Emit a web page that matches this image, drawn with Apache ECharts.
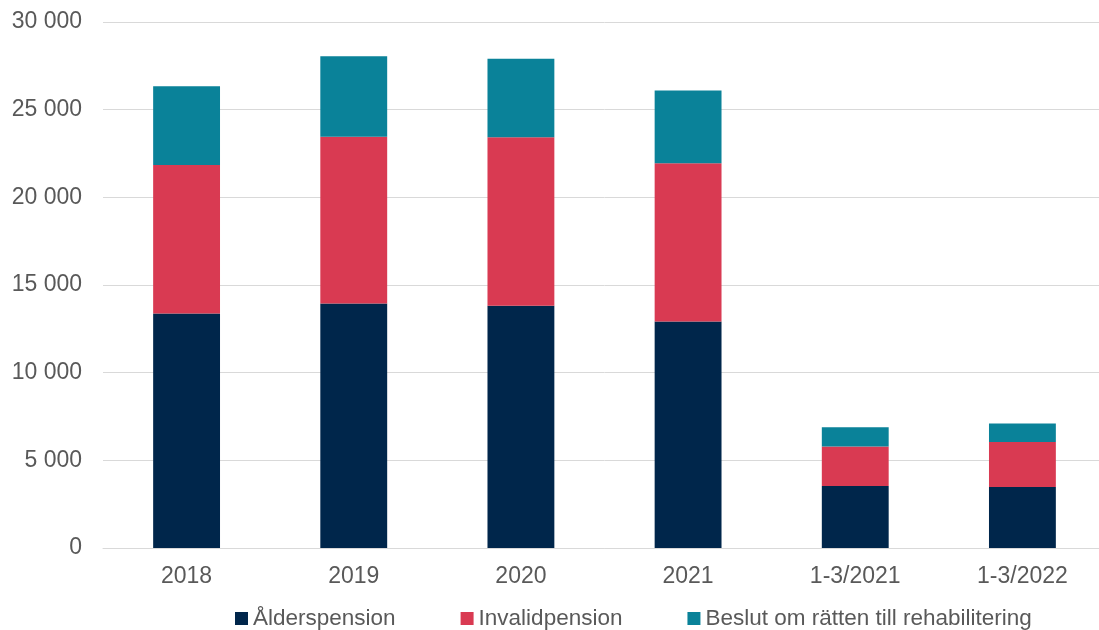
<!DOCTYPE html>
<html>
<head>
<meta charset="utf-8">
<script src="https://cdn.jsdelivr.net/npm/echarts@6/dist/echarts.min.js"></script>
<style>
  html, body { margin: 0; padding: 0; background: #ffffff; overflow: hidden; }
  #chart { width: 1106px; height: 630px; }
</style>
</head>
<body>
<div id="chart"></div>
<script>
// Categories and stacked segment values
const categories = ['2018', '2019', '2020', '2021', '1-3/2021', '1-3/2022'];
const alderspension = [13380, 13950, 13810, 12920, 3540, 3480];
const invalidpension = [8460, 9500, 9610, 9030, 2250, 2570];
const rehabilitering = [4490, 4600, 4480, 4150, 1100, 1050];
const seriesNames = ['Ålderspension', 'Invalidpension', 'Beslut om rätten till rehabilitering'];

const textColor = '#595959';
const fontFamily = '"Liberation Sans", Arial, sans-serif';
const fontSize = 23;

// Thousands separated by a space: 30 000
function fmt(v) {
  return String(v).replace(/\B(?=(\d{3})+(?!\d))/g, ' ');
}

const chart = echarts.init(document.getElementById('chart'));

function bar(name, data, color) {
  return {
    name: name,
    type: 'bar',
    stack: 'total',
    data: data,
    barWidth: '40%',
    itemStyle: { color: color },
    emphasis: { disabled: true }
  };
}

chart.setOption({
  animation: false,
  textStyle: { fontFamily: fontFamily },
  grid: { left: 103, right: 0, top: 22, bottom: 82, containLabel: false },
  legend: {
    left: 230,
    top: 602,
    itemWidth: 13,
    itemHeight: 13,
    itemGap: 65,
    icon: 'rect',
    textStyle: { color: textColor, fontSize: 22.5, fontFamily: fontFamily },
    data: seriesNames
  },
  xAxis: {
    type: 'category',
    data: categories,
    axisLine: { show: true, lineStyle: { color: '#D9D9D9', width: 1 } },
    axisTick: { show: false },
    axisLabel: { color: textColor, fontSize: fontSize, margin: 17, fontFamily: fontFamily }
  },
  yAxis: {
    type: 'value',
    min: 0,
    max: 30000,
    interval: 5000,
    axisLine: { show: false },
    axisTick: { show: false },
    splitLine: { lineStyle: { color: '#D9D9D9', width: 1 } },
    axisLabel: { color: textColor, fontSize: fontSize, margin: 21, fontFamily: fontFamily, formatter: fmt }
  },
  series: [
    bar(seriesNames[0], alderspension, '#00264B'),
    bar(seriesNames[1], invalidpension, '#D93A52'),
    bar(seriesNames[2], rehabilitering, '#0A8299')
  ]
});
</script>
</body>
</html>
